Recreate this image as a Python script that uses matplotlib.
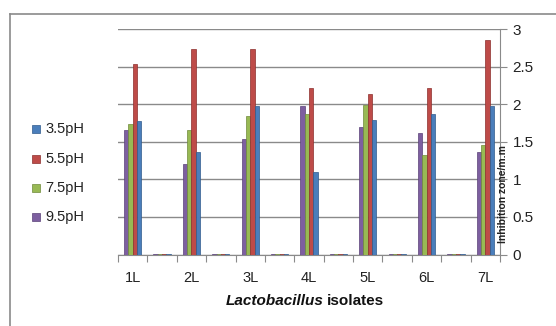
import matplotlib.pyplot as plt
import numpy as np
from matplotlib.lines import Line2D
from matplotlib.patches import Rectangle

# Categories: real isolates alternate with empty spacer categories
categories = ["1L", "", "2L", "", "3L", "", "4L", "", "5L", "", "6L", "", "7L"]
series_names = ["9.5pH", "7.5pH", "5.5pH", "3.5pH"]

gap = 0.01
ph_95 = [1.66, gap, 1.21, gap, 1.54, gap, 1.98, gap, 1.69, gap, 1.62, gap, 1.37]
ph_75 = [1.74, gap, 1.65, gap, 1.84, gap, 1.87, gap, 1.99, gap, 1.33, gap, 1.46]
ph_55 = [2.54, gap, 2.73, gap, 2.73, gap, 2.21, gap, 2.14, gap, 2.21, gap, 2.86]
ph_35 = [1.77, gap, 1.36, gap, 1.98, gap, 1.10, gap, 1.79, gap, 1.87, gap, 1.98]

colors = ["#7d5fa0", "#98b954", "#be4b48", "#4a7ebb"]
edges = ["#5a4178", "#6f8a3a", "#8c2f2d", "#2f5a8c"]

plt.rcParams["font.family"] = ["Liberation Sans", "DejaVu Sans"]

W, H = 556, 326
fig = plt.figure(figsize=(W / 100, H / 100), dpi=100)
ax = fig.add_axes([118 / W, 1 - 254.5 / H, (500 - 118) / W, (254.5 - 29) / H])

x = np.arange(len(categories))
bw = 0.146
values = [ph_95, ph_75, ph_55, ph_35]
for i, (vals, c, ec) in enumerate(zip(values, colors, edges)):
    ax.bar(x + (i - 1.5) * bw, vals, width=bw, color=c, edgecolor=ec, linewidth=0.5, zorder=3)

ax.set_xlim(-0.5, len(categories) - 0.5)
ax.set_ylim(0, 3)
ax.set_yticks(np.arange(0, 3.01, 0.5))
ax.set_yticklabels(["0", "0.5", "1", "1.5", "2", "2.5", "3"])
ax.yaxis.tick_right()
ax.grid(axis="y", color="#8a8a8a", linewidth=1.0, zorder=0)
ax.set_axisbelow(True)

for s in ["top", "left"]:
    ax.spines[s].set_visible(False)
ax.spines["right"].set_color("#8a8a8a")
ax.spines["bottom"].set_color("#8a8a8a")
ax.tick_params(axis="y", right=True, length=5, color="#8a8a8a", labelsize=11, pad=4, labelcolor="#222222")

# x ticks at category boundaries, labels centered
ax.set_xticks(np.arange(-0.5, len(categories), 1.0))
ax.set_xticklabels([])
ax.set_xticks(x, minor=True)
ax.set_xticklabels(categories, minor=True)
ax.tick_params(axis="x", which="major", length=5, color="#8a8a8a")
ax.tick_params(axis="x", which="minor", length=0, labelsize=10.5, pad=12, labelcolor="#222222")

# y-axis label sitting between the spine and the tick labels
fig.text(503 / W, 1 - 194 / H, "Inhibition zone/m.m", rotation=90, ha="center", va="center",
         fontsize=7.5, fontweight="bold", color="#222222")

# x-axis title: italic genus name + plain word
fig.text(324 / W, 1 - 301 / H, "Lactobacillus", ha="right", va="center",
         fontsize=11, fontweight="bold", fontstyle="italic", color="#111111")
fig.text(327 / W, 1 - 301 / H, "isolates", ha="left", va="center",
         fontsize=11, fontweight="bold", color="#111111")

# legend (reverse order)
leg_y = [129, 159, 188, 217]
for name, c, ec, yy in zip(series_names[::-1], colors[::-1], edges[::-1], leg_y):
    fig.patches.append(Rectangle((32 / W, 1 - (yy + 4) / H), 8 / W, 8 / H, transform=fig.transFigure,
                                 facecolor=c, edgecolor=ec, linewidth=0.5))
    fig.text(45 / W, 1 - yy / H, name, ha="left", va="center", fontsize=10.5, color="#222222")

# outer frame (top and left edges visible)
fig.add_artist(Line2D([10 / W, 1], [1 - 13.5 / H] * 2, transform=fig.transFigure, color="#8a8a8a", linewidth=1.2))
fig.add_artist(Line2D([10 / W] * 2, [0, 1 - 13.5 / H], transform=fig.transFigure, color="#8a8a8a", linewidth=1.2))

fig.savefig("out.png", dpi=100)
